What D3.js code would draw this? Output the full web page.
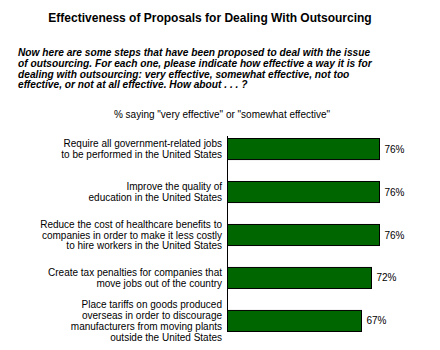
<!DOCTYPE html>
<html>
<head>
<meta charset="utf-8">
<script src="https://cdn.jsdelivr.net/npm/d3@7"></script>
<style>
  body { margin: 0; background: #fff; }
  text { font-family: "Liberation Sans", Arial, sans-serif; fill: #000; }
</style>
</head>
<body>
<div id="chart"></div>
<script>
// chart data
const proposals = [
  ["Require all government-related jobs", "to be performed in the United States"],
  ["Improve the quality of", "education in the United States"],
  ["Reduce the cost of healthcare benefits to", "companies in order to make it less costly", "to hire workers in the United States"],
  ["Create tax penalties for companies that", "move jobs out of the country"],
  ["Place tariffs on goods produced", "overseas in order to discourage", "manufacturers from moving plants", "outside the United States"]
];
const effective = [76, 76, 76, 72, 67];

const titleText = "Effectiveness of Proposals for Dealing With Outsourcing";
const questionLines = [
  "Now here are some steps that have been proposed to deal with the issue",
  "of outsourcing. For each one, please indicate how effective a way it is for",
  "dealing with outsourcing: very effective, somewhat effective, not too",
  "effective, or not at all effective. How about . . . ?"
];
const measureText = "% saying \"very effective\" or \"somewhat effective\"";

const W = 440, H = 350;
const svg = d3.select("#chart").append("svg")
  .attr("width", W)
  .attr("height", H);

// title
svg.append("text")
  .attr("x", 210)
  .attr("y", 22)
  .attr("text-anchor", "middle")
  .style("font-weight", "bold")
  .style("font-size", "12px")
  .text(titleText);

// question text
svg.append("g")
  .selectAll("text")
  .data(questionLines)
  .join("text")
  .attr("x", 18)
  .attr("y", (d, i) => 56.3 + i * 10.6)
  .style("font-weight", "bold")
  .style("font-style", "italic")
  .style("font-size", "10.2px")
  .text((d) => d);

svg.append("text")
  .attr("x", 222)
  .attr("y", 118)
  .attr("text-anchor", "middle")
  .style("font-size", "10px")
  .text(measureText);

// scales
const x0 = 227.5;
const x = d3.scaleLinear().domain([0, 100]).range([x0, x0 + 200]);
const y = d3.scaleBand()
  .domain(d3.range(proposals.length))
  .range([138, 332])
  .paddingInner(0.487)
  .paddingOuter(0);

// bars
svg.append("g")
  .selectAll("rect")
  .data(effective)
  .join("rect")
  .attr("x", x(0))
  .attr("y", (d, i) => y(i) + 0.5)
  .attr("width", (d) => x(d) - x(0))
  .attr("height", y.bandwidth() - 1)
  .attr("fill", "#006600")
  .attr("stroke", "#000")
  .attr("stroke-width", 1);

// value labels
svg.append("g")
  .selectAll("text")
  .data(effective)
  .join("text")
  .attr("x", (d) => x(d) + 5)
  .attr("y", (d, i) => y(i) + y.bandwidth() / 2 + 3.5)
  .style("font-size", "10px")
  .text((d) => d + "%");

// category labels
const lineH = 10.7;
svg.append("g")
  .selectAll("text")
  .data(proposals)
  .join("text")
  .attr("text-anchor", "end")
  .style("font-size", "10px")
  .each(function (lines, i) {
    const cy = y(i) + y.bandwidth() / 2;
    const top = cy - ((lines.length - 1) * lineH) / 2 + 3.5;
    d3.select(this)
      .selectAll("tspan")
      .data(lines)
      .join("tspan")
      .attr("x", 222)
      .attr("y", (d, j) => top + j * lineH)
      .text((d) => d);
  });

// axis line
svg.append("line")
  .attr("x1", x0).attr("x2", x0)
  .attr("y1", 136).attr("y2", 332)
  .attr("stroke", "#000")
  .attr("stroke-width", 1);
</script>
</body>
</html>
